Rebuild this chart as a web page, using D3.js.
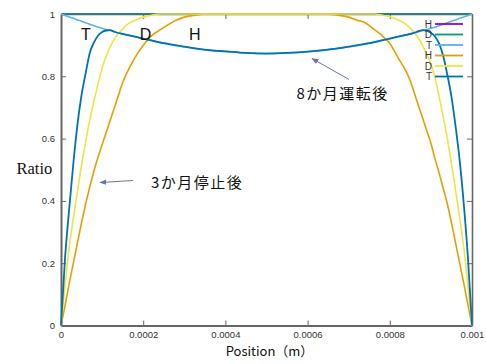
<!DOCTYPE html>
<html>
<head>
<meta charset="utf-8">
<script src="https://cdn.jsdelivr.net/npm/d3@7"></script>
<style>
  html, body { margin: 0; padding: 0; background: #fff; }
  svg { display: block; }
</style>
</head>
<body>
<svg id="chart" width="486" height="364"></svg>
<script>
// Position across the layer (m)
const positions = [
  0, 0.00001, 0.00002, 0.00003, 0.00004, 0.00005, 0.00006, 0.00007, 0.00008, 0.00009,
  0.0001, 0.00011, 0.00012, 0.00013, 0.00014, 0.00015, 0.00016, 0.00018, 0.0002, 0.00022,
  0.00024, 0.00026, 0.00028, 0.0003, 0.00033, 0.00036, 0.0004, 0.00045, 0.0005,
  0.00055, 0.0006, 0.00064, 0.00067, 0.0007, 0.00072, 0.00074, 0.00076, 0.00078, 0.0008,
  0.00082, 0.00084, 0.00085, 0.00086, 0.00087, 0.00088, 0.00089, 0.0009, 0.00091, 0.00092,
  0.00093, 0.00094, 0.00095, 0.00096, 0.00097, 0.00098, 0.00099, 0.001
];
const flatPositions = [0, 0.0005, 0.001];

// After 8 months of operation
const h8 = [1, 1, 1];
const d8 = [1, 1, 1];
const t8 = [
  1, 0.995, 0.99, 0.986, 0.981, 0.977, 0.972, 0.967, 0.962, 0.958,
  0.954, 0.95, 0.947, 0.943, 0.939, 0.936, 0.933, 0.927, 0.921, 0.915,
  0.909, 0.904, 0.899, 0.895, 0.889, 0.884, 0.88, 0.875, 0.873,
  0.875, 0.879, 0.884, 0.889, 0.895, 0.899, 0.904, 0.909, 0.915, 0.921,
  0.927, 0.933, 0.936, 0.939, 0.943, 0.947, 0.95, 0.954, 0.958, 0.962,
  0.967, 0.972, 0.977, 0.981, 0.986, 0.99, 0.995, 1
];

// After a 3-month stop
const h3 = [
  0, 0.065, 0.135, 0.2, 0.265, 0.33, 0.39, 0.445, 0.495, 0.54,
  0.58, 0.62, 0.66, 0.7, 0.74, 0.78, 0.81, 0.86, 0.9, 0.93,
  0.948, 0.965, 0.98, 0.99, 0.997, 1, 1, 1, 1,
  1, 1, 1, 0.997, 0.99, 0.98, 0.972, 0.952, 0.932, 0.905,
  0.86, 0.815, 0.785, 0.745, 0.705, 0.665, 0.625, 0.585, 0.535, 0.49,
  0.44, 0.39, 0.33, 0.265, 0.2, 0.135, 0.068, 0
];
const d3v = [
  0, 0.13, 0.25, 0.345, 0.43, 0.515, 0.59, 0.66, 0.72, 0.775,
  0.825, 0.865, 0.895, 0.92, 0.938, 0.952, 0.965, 0.98, 0.99, 0.996,
  1, 1, 1, 1, 1, 1, 1, 1, 1,
  1, 1, 1, 1, 1, 1, 1, 1, 0.997, 0.991,
  0.981, 0.966, 0.954, 0.94, 0.922, 0.898, 0.87, 0.84, 0.795, 0.735,
  0.67, 0.6, 0.52, 0.435, 0.345, 0.25, 0.13, 0
];
const t3 = [
  0, 0.22, 0.375, 0.52, 0.645, 0.74, 0.81, 0.875, 0.908, 0.93,
  0.942, 0.947, 0.948, 0.943, 0.939, 0.936, 0.933, 0.927, 0.921, 0.915,
  0.909, 0.904, 0.899, 0.895, 0.889, 0.884, 0.88, 0.875, 0.873,
  0.875, 0.879, 0.884, 0.889, 0.895, 0.899, 0.904, 0.909, 0.915, 0.921,
  0.927, 0.933, 0.936, 0.94, 0.945, 0.948, 0.946, 0.94, 0.928, 0.905,
  0.865, 0.805, 0.735, 0.64, 0.53, 0.39, 0.22, 0
];

const legendNames = ["H", "D", "T", "H", "D", "T"];
const seriesColors = ["#9400d3", "#009e73", "#56b4e9", "#e69f00", "#f0e442", "#0072b2"];

const xTicks = [0, 0.0002, 0.0004, 0.0006, 0.0008, 0.001];
const xTickLabels = ["0", "0.0002", "0.0004", "0.0006", "0.0008", "0.001"];
const yTicks = [0, 0.2, 0.4, 0.6, 0.8, 1];
const yTickLabels = ["0", "0.2", "0.4", "0.6", "0.8", "1"];

const series = [
  { xs: flatPositions, ys: h8 },
  { xs: flatPositions, ys: d8 },
  { xs: positions, ys: t8 },
  { xs: positions, ys: h3 },
  { xs: positions, ys: d3v },
  { xs: positions, ys: t3 }
];

const svg = d3.select("#chart");
const plotLeft = 61, plotRight = 472, plotTop = 14, plotBottom = 325.5;

const x = d3.scaleLinear().domain([0, 0.001]).range([plotLeft, plotRight]);
const y = d3.scaleLinear().domain([0, 1]).range([plotBottom, plotTop]);

const tickFont = "'Liberation Sans', Arial, sans-serif";

// axes with inward ticks
const axisColor = "#666";
function styleAxis(g, width) {
  g.select(".domain").attr("stroke", axisColor).attr("stroke-width", width);
  g.selectAll(".tick line").attr("stroke", axisColor).attr("stroke-width", 1);
  g.selectAll(".tick text").attr("fill", "#333")
    .attr("font-family", tickFont).attr("font-size", "9.5px");
}

svg.append("g")
  .attr("transform", `translate(0,${plotTop})`)
  .call(d3.axisTop(x).tickValues(xTicks).tickFormat("").tickSizeInner(-5).tickSizeOuter(0))
  .call(g => styleAxis(g, 1.6));
svg.append("g")
  .attr("transform", `translate(${plotRight},0)`)
  .call(d3.axisRight(y).tickValues(yTicks).tickFormat("").tickSizeInner(-5).tickSizeOuter(0))
  .call(g => styleAxis(g, 1.6));
svg.append("g")
  .attr("transform", `translate(0,${plotBottom})`)
  .call(d3.axisBottom(x).tickValues(xTicks)
    .tickFormat((d, i) => xTickLabels[i]).tickSizeInner(-5).tickSizeOuter(0).tickPadding(6))
  .call(g => styleAxis(g, 2));
svg.append("g")
  .attr("transform", `translate(${plotLeft},0)`)
  .call(d3.axisLeft(y).tickValues(yTicks)
    .tickFormat((d, i) => yTickLabels[i]).tickSizeInner(-5).tickSizeOuter(0).tickPadding(6))
  .call(g => styleAxis(g, 2));

// curves
const line = d3.line().curve(d3.curveMonotoneX);
series.forEach((s, i) => {
  const pts = s.xs.map((v, k) => [x(v), y(s.ys[k])]);
  svg.append("path")
    .attr("d", line(pts))
    .attr("fill", "none")
    .attr("stroke", seriesColors[i])
    .attr("stroke-width", i === 5 ? 1.8 : 1.6)
    .attr("stroke-linejoin", "round");
});

// legend
const legend = svg.append("g");
legendNames.forEach((name, i) => {
  const ly = 24 + i * 10.5;
  legend.append("text")
    .attr("x", 432).attr("y", ly + 3.5)
    .attr("text-anchor", "end")
    .attr("font-family", tickFont).attr("font-size", "10px")
    .attr("fill", "#333")
    .text(name);
  legend.append("line")
    .attr("x1", 435).attr("x2", 463)
    .attr("y1", ly).attr("y2", ly)
    .attr("stroke", seriesColors[i]).attr("stroke-width", 1.8);
});

// curve letters
const letterFont = "'Liberation Sans', Arial, sans-serif";
[["T", 86], ["D", 145.5], ["H", 194.7]].forEach(([t, cx]) => {
  svg.append("text")
    .attr("x", cx).attr("y", 40)
    .attr("text-anchor", "middle")
    .attr("font-family", letterFont).attr("font-size", "16px")
    .attr("fill", "#111")
    .text(t);
});

// axis titles
svg.append("text")
  .attr("x", 16.5).attr("y", 174)
  .attr("font-family", "'Liberation Serif', 'Times New Roman', serif")
  .attr("font-size", "16.5px").attr("fill", "#111")
  .text("Ratio");
svg.append("text")
  .attr("x", 269.5).attr("y", 355.5)
  .attr("text-anchor", "middle")
  .attr("font-family", "'Noto Sans CJK JP', 'Noto Sans', sans-serif")
  .attr("font-size", "13px").attr("fill", "#111")
  .text("Position（m）");

// annotations with arrows
const defs = svg.append("defs");
defs.append("marker")
  .attr("id", "arrowhead")
  .attr("viewBox", "0 0 10 10")
  .attr("refX", 9).attr("refY", 5)
  .attr("markerWidth", 7).attr("markerHeight", 7)
  .attr("markerUnits", "userSpaceOnUse")
  .attr("orient", "auto")
  .append("path")
  .attr("d", "M0,1 L10,5 L0,9 Z")
  .attr("fill", "#6676a8");

const annoFont = "'Noto Sans CJK JP', sans-serif";
svg.append("line")
  .attr("x1", 349).attr("y1", 79.5).attr("x2", 312).attr("y2", 58.5)
  .attr("stroke", "#6676a8").attr("stroke-width", 1)
  .attr("marker-end", "url(#arrowhead)");
svg.append("text")
  .attr("x", 296.5).attr("y", 99)
  .attr("font-family", annoFont).attr("font-size", "15px")
  .attr("letter-spacing", "1.5px").attr("fill", "#111")
  .text("8か月運転後");

svg.append("line")
  .attr("x1", 133).attr("y1", 180.5).attr("x2", 100).attr("y2", 182.5)
  .attr("stroke", "#6676a8").attr("stroke-width", 1)
  .attr("marker-end", "url(#arrowhead)");
svg.append("text")
  .attr("x", 151).attr("y", 187.5)
  .attr("font-family", annoFont).attr("font-size", "15px")
  .attr("letter-spacing", "1.5px").attr("fill", "#111")
  .text("3か月停止後");
</script>
</body>
</html>
